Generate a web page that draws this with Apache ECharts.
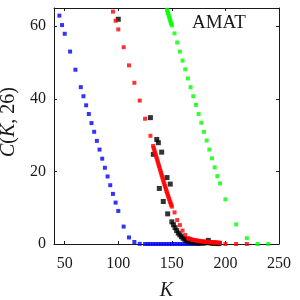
<!DOCTYPE html>
<html><head><meta charset="utf-8">
<script src="https://cdn.jsdelivr.net/npm/echarts@6/dist/echarts.min.js"></script>
<style>html,body{margin:0;padding:0;background:#fff}#c{width:300px;height:300px}</style>
</head><body><div id="c"></div>
<script>
// Tick labels
const xTicks = [50, 100, 150, 200, 250];
const yTicks = [0, 20, 40, 60];
const panelLabel = 'AMAT';

// Blue series
const blueK = [45,47.5,50,55,60,65,67.5,70,72.5,75,77.5,80,82.5,85,87.5,90,92.5,95,97.5,100,105,110,115,120,125,
  127.5,130,132.5,135,137.5,140,142.5,145,147.5,150,152.5,155,157.5,160,162.5,165,167.5,170,172.5,175];
const blueC = [62.9,60.3,57.9,53.0,48.0,43.2,40.7,38.2,35.8,33.3,30.9,28.4,26.0,23.5,21.0,18.6,16.2,13.8,11.4,9.1,4.8,1.8,0.55,0.05,0,
  0,0,0,0,0,0,0,0,0,0,0,0,0,0,0,0,0,0,0,0];

// Red series
const redK = [95,97.5,100,105,110,115,120,125,130,
  132.5,133,133.5,134,134.5,135,135.5,136,136.5,137,137.5,138,138.5,139,139.5,140,140.5,141,141.5,142,142.5,143,143.5,144,144.5,145,145.5,146,146.5,147,147.5,148,148.5,149,149.5,150,
  152.5,155,157.5,160,162.5,165,
  166,167,168,169,170,171,172,173,174,175,176,177,178,179,180,181,182,183,184,185,186,187,188,189,190,191,192,193,194,195,
  200,210,220];
const redC = [64.0,61.5,59.1,54.2,49.2,44.4,39.5,34.5,29.8,
  27.0,26.5,26.0,25.5,25.0,24.5,24.0,23.5,23.0,22.5,22.0,21.5,21.0,20.5,20.0,19.5,19.0,18.5,18.0,17.5,17.0,16.5,16.0,15.6,15.1,14.6,14.2,13.7,13.3,12.8,12.4,11.9,11.5,11.1,10.7,10.3,
  8.7,6.6,5.2,3.7,2.5,1.6,
  1.5,1.4,1.3,1.2,1.1,1.05,1.0,0.95,0.9,0.85,0.8,0.75,0.7,0.68,0.65,0.62,0.6,0.57,0.55,0.53,0.5,0.48,0.46,0.44,0.42,0.4,0.38,0.36,0.34,0.32,
  0,0,0];

// Green series
const greenK = [145.5,146,146.5,147,147.5,148,148.5,149,149.5,150,
  152.5,155,157.5,160,162.5,165,167.5,170,172.5,175,177.5,180,182.5,185,187.5,190,192.5,195,
  200,210,220,230,240];
const greenC = [64.5,64.0,63.5,63.0,62.5,62.0,61.5,61.0,60.6,60.2,
  58.0,55.5,53.0,50.5,48.1,45.6,43.2,40.7,38.3,35.8,33.4,30.9,28.5,26.0,23.6,21.1,18.7,16.7,
  12.3,5.4,1.6,0,0];

// Black series
const blackK = [100,130,132.7,135.9,137.4,138.3,140.5,142,145.5,146.1,148.5,150,151.5,153,154.5,156,157.5,159,160.5,162,163.5,165,167,169,171,173,175,177,179,181,184,186,188,190,192,194];
const blackC = [61.9,34.8,24.7,28.8,27.9,15.3,25.3,11.7,18.3,8.3,16.5,6.1,5.3,4.5,3.7,3.0,2.5,2.0,1.6,1.3,1.0,0.8,0.6,0.5,0.4,0.35,0.3,0.3,0.25,0.3,1.0,0.3,0.2,0.2,0.15,0.1];

const zip = (a, b) => a.map((v, i) => [v, b[i]]);
const serif = '"Liberation Serif", "DejaVu Serif", serif';
const ink = '#1a1a1a';

const chart = echarts.init(document.getElementById('c'), null, {renderer: 'canvas'});
const lineStyle = {color: ink, width: 1};
chart.setOption({
  animation: false,
  grid: {left: 54, right: 21, top: 8, bottom: 56, containLabel: false, outerBoundsMode: 'none'},
  xAxis: [{
    type: 'value', min: 40, max: 250, position: 'bottom',
    axisLine: {onZero: false, lineStyle},
    axisTick: {inside: true, length: 3, customValues: xTicks, lineStyle},
    axisLabel: {customValues: xTicks, margin: 12, color: ink, fontFamily: serif, fontSize: 16},
    splitLine: {show: false},
    name: 'K', nameLocation: 'middle', nameGap: 37,
    nameTextStyle: {fontFamily: serif, fontStyle: 'italic', fontSize: 20, color: ink}
  }, {
    type: 'value', min: 40, max: 250, position: 'top',
    axisLine: {onZero: false, lineStyle},
    axisTick: {inside: true, length: 3, customValues: xTicks, lineStyle},
    axisLabel: {show: false}, splitLine: {show: false}
  }],
  yAxis: [{
    type: 'value', min: 0, max: 65, position: 'left',
    axisLine: {onZero: false, lineStyle},
    axisTick: {inside: true, length: 3, customValues: yTicks, lineStyle},
    axisLabel: {customValues: yTicks, margin: 8, color: ink, fontFamily: serif, fontSize: 16},
    splitLine: {show: false},
    name: '{i|C}(' + '{i|K}, 26)', nameLocation: 'middle', nameGap: 33,
    nameTextStyle: {fontFamily: serif, fontSize: 20, color: ink, padding: [0, 0, 0, 8],
      rich: {i: {fontFamily: serif, fontStyle: 'italic', fontSize: 20, color: ink}}}
  }, {
    type: 'value', min: 0, max: 65, position: 'right',
    axisLine: {onZero: false, lineStyle},
    axisTick: {inside: true, length: 3, customValues: yTicks, lineStyle},
    axisLabel: {show: false}, splitLine: {show: false}
  }],
  graphic: [{
    type: 'text', left: 192, top: 14,
    style: {text: panelLabel, font: '19px ' + serif, fill: ink}
  }],
  series: [
    {name: 'blue', type: 'scatter', symbol: 'rect', symbolSize: 4, data: zip(blueK, blueC), itemStyle: {color: '#0000ff'}, z: 2},
    {name: 'green', type: 'scatter', symbol: 'rect', symbolSize: 4, data: zip(greenK, greenC), itemStyle: {color: '#00ff00'}, z: 2},
    {name: 'black', type: 'scatter', symbol: 'rect', symbolSize: 5, data: zip(blackK, blackC), itemStyle: {color: '#000000'}, z: 3},
    {name: 'red', type: 'scatter', symbol: 'rect', symbolSize: 4, data: zip(redK, redC), itemStyle: {color: '#ff0000'}, z: 4}
  ]
});
</script>
</body></html>
